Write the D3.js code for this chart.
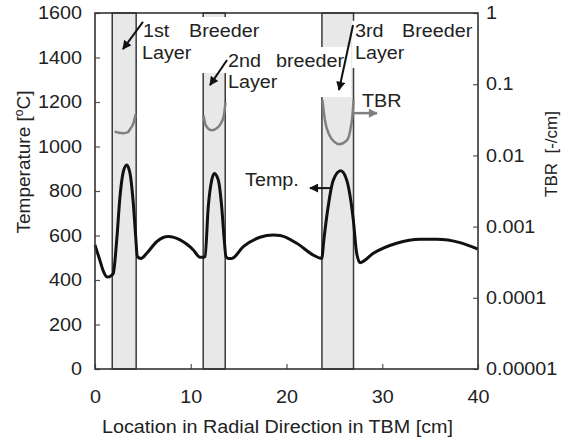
<!DOCTYPE html>
<html>
<head>
<meta charset="utf-8">
<script src="https://cdn.jsdelivr.net/npm/d3@7"></script>
<style>
  body { margin: 0; background: #fff; }
  text { font-family: "Liberation Sans", Arial, sans-serif; fill: #222; }
</style>
</head>
<body>
<div class="chart"></div>
<script>

// Chart data
var tempX = [0, 0.5, 0.9, 1.3, 1.7, 1.91, 2.27, 2.61, 2.96, 3.31, 3.66, 4.0, 4.25, 4.42, 4.8, 5.4, 6.44, 7.66, 8.88, 10.27, 10.97, 11.31, 11.49, 11.83, 12.19, 12.46, 12.88, 13.23, 13.5, 13.68, 13.92, 14.28, 15.49, 17.23, 18.62, 19.32, 21.07, 22.8, 23.68, 23.9, 24.2, 24.89, 25.66, 26.29, 26.98, 27.33, 27.68, 29.07, 31.5, 33.94, 35.69, 38.12, 40];
var tempY = [557, 490, 437, 413, 420, 430, 580, 775, 887, 917, 879, 744, 595, 505, 497, 520, 572, 595, 580, 535, 502, 502, 505, 730, 849, 879, 849, 730, 580, 505, 497, 497, 550, 592, 602, 600, 565, 512, 497, 580, 684, 849, 891, 849, 669, 520, 478, 520, 565, 583, 583, 568, 539];

var tbr1X = [2.05, 2.5, 3.0, 3.4, 3.7, 4.0, 4.25];
var tbr1Y = [0.0218, 0.0208, 0.0205, 0.021, 0.0238, 0.028, 0.038];
var tbr2X = [11.35, 11.5, 11.8, 12.2, 12.8, 13.2, 13.45, 13.63];
var tbr2Y = [0.036, 0.028, 0.024, 0.0225, 0.0245, 0.029, 0.036, 0.055];
var tbr3X = [23.75, 24.0, 24.5, 25.0, 25.5, 26.3, 26.7, 26.9, 27.0];
var tbr3Y = [0.06, 0.032, 0.019, 0.0155, 0.0143, 0.0162, 0.024, 0.038, 0.06];

// Breeder layers [start, end] in cm
var layerStart = [1.8, 11.3, 23.7];
var layerEnd = [4.3, 13.6, 27.0];

var xTicks = [0, 10, 20, 30, 40];
var tempTicks = [0, 200, 400, 600, 800, 1000, 1200, 1400, 1600];
var tbrTicks = [0.00001, 0.0001, 0.001, 0.01, 0.1, 1];
var tbrTickLabels = ["0.00001", "0.0001", "0.001", "0.01", "0.1", "1"];

// Dimensions
var width = 567;
var height = 442;
var margin = {top: 13, right: 89, bottom: 73, left: 95};
var plotW = width - margin.left - margin.right;
var plotH = height - margin.top - margin.bottom;
var stretchX = 1.13;

var x = d3.scaleLinear().domain([0, 40]).range([0, plotW]);
var y = d3.scaleLinear().domain([0, 1600]).range([plotH, 0]);
var yTbr = d3.scaleLog().domain([0.00001, 1]).range([plotH, 0]);

var svg = d3.select(".chart")
  .append("svg")
  .attr("width", width)
  .attr("height", height);

var defs = svg.append("defs");
function addMarker(id, color) {
    defs.append("marker")
      .attr("id", id)
      .attr("viewBox", "0 0 10 10")
      .attr("refX", 9)
      .attr("refY", 5)
      .attr("markerUnits", "userSpaceOnUse")
      .attr("markerWidth", 10)
      .attr("markerHeight", 9)
      .attr("orient", "auto")
      .append("path")
        .attr("d", "M0,0 L10,5 L0,10 Z")
        .style("fill", color);
}
addMarker("headBlack", "#111");
addMarker("headGrey", "#808080");

var chart = svg.append("g")
  .attr("transform", "translate(" + margin.left + "," + margin.top + ")");

// Breeder layer bands
chart.selectAll(".layer")
  .data(layerStart)
  .enter()
  .append("rect")
  .attr("class", "layer")
  .attr("x", function(d) { return x(d); })
  .attr("width", function(d, i) { return x(layerEnd[i]) - x(d); })
  .attr("y", y(1600))
  .attr("height", y(0) - y(1600))
  .style("fill", "#e8e8e8")
  .style("stroke", "#3a3a3a")
  .style("stroke-width", 1.5);

// White label boxes over the bands, in data units [x0, x1, yTop, yBottom]
var boxes = [[4.7, 18.3, 1582, 1330], [13.8, 26.75, 1447, 1222], [26.85, 39.8, 1565, 1353]];
chart.selectAll(".labelBox")
  .data(boxes)
  .enter()
  .append("rect")
  .attr("class", "labelBox")
  .attr("x", function(d) { return x(d[0]); })
  .attr("width", function(d) { return x(d[1]) - x(d[0]); })
  .attr("y", function(d) { return y(d[2]); })
  .attr("height", function(d) { return y(d[3]) - y(d[2]); })
  .style("fill", "#fff");

// TBR curves
var tbrLine = d3.line()
  .x(function(d) { return x(d[0]); })
  .y(function(d) { return yTbr(d[1]); })
  .curve(d3.curveMonotoneX);

[[tbr1X, tbr1Y], [tbr2X, tbr2Y], [tbr3X, tbr3Y]].forEach(function(s) {
    chart.append("path")
      .datum(d3.zip(s[0], s[1]))
      .attr("d", tbrLine)
      .style("fill", "none")
      .style("stroke", "#808080")
      .style("stroke-width", 2.5);
});

// Temperature curve
var tempLine = d3.line()
  .x(function(d) { return x(d[0]); })
  .y(function(d) { return y(d[1]); })
  .curve(d3.curveMonotoneX);

chart.append("path")
  .datum(d3.zip(tempX, tempY))
  .attr("d", tempLine)
  .style("fill", "none")
  .style("stroke", "#111")
  .style("stroke-width", 3);

// Text helper: stretched horizontally like the reference
function addText(str, cx, cy, anchor) {
    return chart.append("text")
      .attr("transform", "translate(" + x(cx) + "," + y(cy) + ") scale(" + stretchX + ",1)")
      .attr("text-anchor", anchor || "start")
      .style("font-size", "17.5px")
      .text(str);
}

// Annotations [label, x (cm), y (degC)]
var labels = [
    ["1st", 5.01, 1492], ["Breeder", 9.82, 1492], ["Layer", 4.91, 1393],
    ["2nd", 13.89, 1357], ["breeder", 18.9, 1357], ["Layer", 13.89, 1263],
    ["3rd", 27.15, 1492], ["Breeder", 32.06, 1492], ["Layer", 27.15, 1393],
    ["TBR", 27.88, 1178], ["Temp.", 15.67, 822]
];
labels.forEach(function(l) { addText(l[0], l[1], l[2]); });

// Arrows [x0, y0, x1, y1, color]
var arrows = [
    [5.01, 1560, 2.92, 1438, "Black"],
    [13.79, 1389, 12.01, 1276, "Black"],
    [26.95, 1546, 25.48, 1254, "Black"],
    [27.05, 1150, 29.45, 1150, "Grey"],
    [24.75, 813, 22.45, 813, "Black"]
];
arrows.forEach(function(a) {
    chart.append("line")
      .attr("x1", x(a[0])).attr("y1", y(a[1]))
      .attr("x2", x(a[2])).attr("y2", y(a[3]))
      .style("stroke", a[4] == "Grey" ? "#808080" : "#111")
      .style("stroke-width", a[4] == "Grey" ? 2.5 : 2)
      .attr("marker-end", "url(#head" + a[4] + ")");
});

// Axes with inward ticks
var xAxis = d3.axisBottom(x).tickValues(xTicks).tickSize(-5).tickPadding(22);
var yAxis = d3.axisLeft(y).tickValues(tempTicks).tickSize(-5).tickPadding(11.5)
  .tickFormat(d3.format("d"));
var yAxisR = d3.axisRight(yTbr).tickValues(tbrTicks).tickSize(-5).tickPadding(7)
  .tickFormat(function(d, i) { return tbrTickLabels[i]; });

function styleAxis(g) {
    g.select(".domain").remove();
    g.selectAll(".tick line").style("stroke", "#555").style("stroke-width", 1.2);
    g.selectAll(".tick text")
      .attr("transform", "scale(" + stretchX + ",1)")
      .style("font-family", "'Liberation Sans', Arial, sans-serif")
      .style("font-size", "17.5px")
      .style("fill", "#222");
}

chart.append("g")
  .attr("transform", "translate(0," + plotH + ")")
  .call(xAxis)
  .call(styleAxis);

chart.append("g")
  .call(yAxis)
  .call(styleAxis);

chart.append("g")
  .attr("transform", "translate(" + plotW + ",0)")
  .call(yAxisR)
  .call(styleAxis);

// Frame
chart.append("rect")
  .attr("width", plotW)
  .attr("height", plotH)
  .style("fill", "none")
  .style("stroke", "#333")
  .style("stroke-width", 1.6);

// Axis titles
chart.append("text")
  .attr("transform", "translate(" + (x(20) - 9) + "," + (plotH + 64) + ") scale(" + stretchX + ",1)")
  .attr("text-anchor", "middle")
  .style("font-size", "17.5px")
  .text("Location in Radial Direction in TBM [cm]");

var yTitle = chart.append("text")
  .attr("transform", "translate(" + (29.5 - margin.left) + "," + (162 - margin.top) + ") rotate(-90)")
  .attr("text-anchor", "middle")
  .style("font-size", "19px");
yTitle.append("tspan").text("Temperature [");
yTitle.append("tspan").attr("dy", -7).style("font-size", "12px").text("o");
yTitle.append("tspan").attr("dy", 7).text("C]");

chart.append("text")
  .attr("transform", "translate(" + (557 - margin.left) + "," + (154 - margin.top) + ") rotate(-90)")
  .attr("text-anchor", "middle")
  .style("font-size", "17px")
  .attr("xml:space", "preserve")
  .text("TBR  [-/cm]");

</script>
</body>
</html>
